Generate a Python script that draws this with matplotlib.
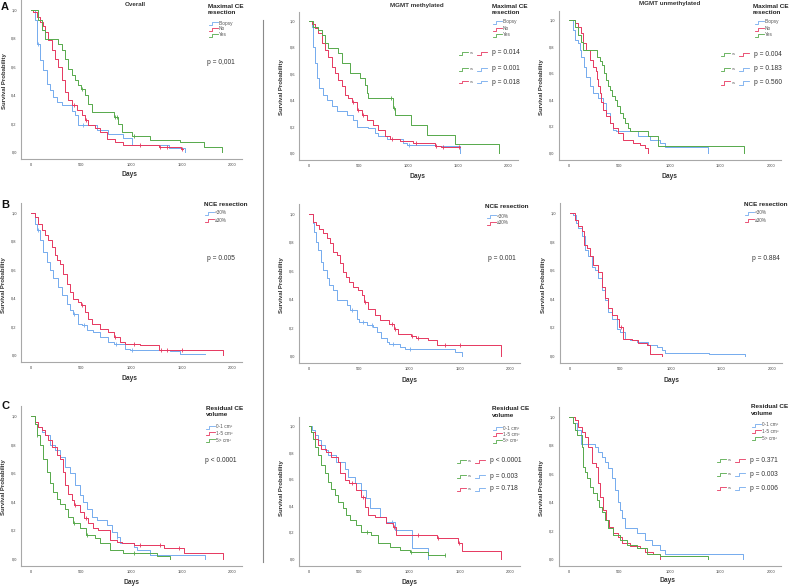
import matplotlib
matplotlib.use('Agg')
import matplotlib.pyplot as plt
from matplotlib.lines import Line2D

plt.rcParams['font.family'] = ['Liberation Sans', 'DejaVu Sans']

# ---------------- data ----------------
x_ticks = [0, 500, 1000, 1500, 2000]
x_tick_labels = ['0', '500', '1000', '1500', '2000']
y_ticks = [0.0, 0.2, 0.4, 0.6, 0.8, 1.0]
y_tick_labels = ['0,0', '0,2', '0,4', '0,6', '0,8', '1,0']

column_titles = ['Overall', 'MGMT methylated', 'MGMT unmethylated']
resection_labels = ['Biopsy', 'No', 'Yes']
nce_labels = ['<30%', '\u226530%']
volume_labels = ['0-1 cm\u00b3', '1-5 cm\u00b3', '5> cm\u00b3']

# A - Overall (Maximal CE resection)
A1_biopsy_t = [0, 40, 63, 90, 123, 156, 189, 223, 262, 306, 405, 438, 472, 654, 771, 920, 1003, 1369, 1528]
A1_biopsy_s = [1.0, 0.93, 0.76, 0.645, 0.575, 0.48, 0.434, 0.387, 0.352, 0.33, 0.29, 0.26, 0.19, 0.157, 0.13, 0.10, 0.05, 0.03, 0.0]
A1_biopsy_c = [70, 520]
A1_no_t = [0, 20, 56, 90, 116, 140, 173, 206, 239, 272, 306, 339, 372, 405, 455, 505, 538, 571, 638, 688, 754, 837, 920, 1270, 1490, 1512]
A1_no_s = [1.0, 0.985, 0.95, 0.915, 0.89, 0.845, 0.786, 0.716, 0.657, 0.6, 0.505, 0.42, 0.364, 0.329, 0.293, 0.258, 0.223, 0.188, 0.171, 0.14, 0.094, 0.07, 0.052, 0.035, 0.023, 0.023]
A1_no_c = [425, 545, 1086, 1286, 1352, 1502]
A1_yes_t = [0, 73, 106, 140, 272, 306, 339, 372, 405, 438, 472, 495, 538, 571, 605, 825, 870, 903, 1003, 1186, 1485, 1720, 1900]
A1_yes_s = [1.0, 0.927, 0.857, 0.798, 0.763, 0.716, 0.657, 0.587, 0.54, 0.505, 0.469, 0.446, 0.399, 0.34, 0.282, 0.246, 0.2, 0.14, 0.11, 0.087, 0.07, 0.035, 0.0]
A1_yes_c = [505, 838, 860, 1020]
A1_p = 'p = 0,001'

# A - MGMT methylated
A2_biopsy_t = [0, 27, 43, 60, 77, 104, 137, 177, 227, 278, 378, 445, 478, 595, 662, 696, 779, 946, 980, 1281, 1515]
A2_biopsy_s = [1.0, 0.957, 0.806, 0.68, 0.567, 0.49, 0.44, 0.403, 0.353, 0.315, 0.29, 0.252, 0.2, 0.189, 0.151, 0.131, 0.106, 0.076, 0.058, 0.05, 0.0]
A2_biopsy_c = [1007]
A2_no_t = [0, 27, 60, 94, 127, 161, 194, 227, 261, 294, 328, 361, 395, 430, 480, 530, 579, 645, 696, 763, 815, 913, 1047, 1264, 1331, 1515]
A2_no_s = [1.0, 0.98, 0.945, 0.907, 0.831, 0.78, 0.73, 0.655, 0.605, 0.554, 0.504, 0.441, 0.416, 0.39, 0.327, 0.29, 0.252, 0.214, 0.176, 0.131, 0.106, 0.088, 0.076, 0.055, 0.045, 0.045]
A2_no_c = [445, 495, 545, 830, 1080, 1275, 1345, 1505]
A2_yes_t = [0, 43, 94, 127, 161, 194, 294, 328, 411, 512, 562, 579, 595, 846, 863, 1030, 1181, 1465, 1910]
A2_yes_s = [1.0, 0.957, 0.93, 0.894, 0.83, 0.793, 0.755, 0.68, 0.605, 0.567, 0.516, 0.453, 0.416, 0.34, 0.29, 0.214, 0.139, 0.07, 0.0]
A2_yes_c = [829, 855]
A2_p = ['p = 0.014', 'p = 0.001', 'p = 0.018']

# A - MGMT unmethylated
A3_biopsy_t = [0, 40, 56, 89, 106, 123, 146, 172, 205, 238, 288, 338, 371, 404, 437, 470, 685, 801, 901, 950, 1381]
A3_biopsy_s = [1.0, 0.925, 0.85, 0.825, 0.775, 0.725, 0.65, 0.575, 0.5, 0.45, 0.413, 0.375, 0.3, 0.225, 0.175, 0.163, 0.125, 0.1, 0.075, 0.045, 0.0]
A3_biopsy_c = []
A3_no_t = [0, 56, 89, 123, 139, 172, 205, 238, 272, 280, 292, 305, 320, 338, 371, 404, 437, 487, 536, 636, 702, 752, 778]
A3_no_s = [1.0, 0.975, 0.95, 0.9, 0.825, 0.775, 0.7, 0.65, 0.613, 0.56, 0.5, 0.45, 0.38, 0.325, 0.275, 0.225, 0.188, 0.15, 0.1, 0.075, 0.058, 0.038, 0.0]
A3_no_c = []
A3_yes_t = [0, 56, 89, 123, 140, 280, 305, 330, 350, 371, 390, 404, 430, 454, 480, 503, 530, 553, 580, 603, 785, 884, 1728]
A3_yes_s = [1.0, 0.95, 0.888, 0.838, 0.775, 0.725, 0.69, 0.663, 0.6, 0.55, 0.5, 0.475, 0.43, 0.4, 0.35, 0.3, 0.26, 0.225, 0.19, 0.163, 0.125, 0.05, 0.0]
A3_yes_c = []
A3_p = ['p = 0.004', 'p = 0.183', 'p = 0.560']

# B - NCE resection
B1_lt_t = [0, 40, 63, 90, 123, 156, 189, 223, 272, 306, 355, 389, 420, 472, 510, 555, 621, 688, 771, 830, 937, 990, 1385, 1485, 1734]
B1_lt_s = [1.0, 0.925, 0.878, 0.808, 0.725, 0.655, 0.596, 0.545, 0.479, 0.42, 0.362, 0.315, 0.291, 0.221, 0.209, 0.174, 0.162, 0.127, 0.092, 0.08, 0.045, 0.038, 0.026, 0.01, 0.01]
B1_lt_c = [70, 430, 525, 850, 1003]
B1_ge_t = [0, 40, 73, 106, 140, 173, 206, 239, 262, 289, 322, 355, 389, 422, 472, 495, 538, 571, 605, 688, 771, 830, 887, 940, 1086, 1270, 1910]
B1_ge_s = [1.0, 0.972, 0.925, 0.878, 0.843, 0.808, 0.761, 0.702, 0.667, 0.643, 0.573, 0.502, 0.444, 0.397, 0.373, 0.35, 0.303, 0.256, 0.221, 0.185, 0.162, 0.127, 0.092, 0.08, 0.07, 0.038, 0.0]
B1_ge_c = [505, 840, 1020, 1290, 1352, 1502]
B1_p = 'p = 0.005'

B2_lt_t = [0, 36, 53, 70, 93, 116, 143, 176, 202, 242, 282, 375, 405, 474, 500, 574, 640, 673, 720, 773, 800, 905, 960, 1453, 1519]
B2_lt_s = [1.0, 0.934, 0.875, 0.805, 0.746, 0.664, 0.605, 0.546, 0.499, 0.464, 0.393, 0.358, 0.327, 0.264, 0.24, 0.216, 0.205, 0.169, 0.13, 0.099, 0.087, 0.064, 0.047, 0.028, 0.0]
B2_lt_c = [430, 540, 630, 840, 1005]
B2_ge_t = [0, 36, 70, 103, 143, 176, 209, 235, 282, 308, 335, 368, 401, 434, 491, 524, 545, 590, 657, 707, 800, 850, 889, 1010, 1060, 1187, 1270, 1907]
B2_ge_s = [1.0, 0.946, 0.922, 0.892, 0.864, 0.828, 0.793, 0.734, 0.711, 0.652, 0.593, 0.558, 0.522, 0.487, 0.468, 0.428, 0.381, 0.334, 0.287, 0.252, 0.228, 0.193, 0.158, 0.141, 0.129, 0.111, 0.075, 0.0]
B2_ge_c = [560, 823, 860, 1022, 1088, 1353, 1502]
B2_p = 'p = 0.001'

B3_lt_t = [0, 33, 60, 83, 116, 149, 182, 215, 248, 281, 314, 347, 380, 413, 463, 496, 545, 595, 661, 777, 860, 909, 942, 1372, 1736]
B3_lt_s = [1.0, 0.988, 0.93, 0.895, 0.836, 0.742, 0.696, 0.625, 0.602, 0.543, 0.461, 0.391, 0.309, 0.262, 0.192, 0.169, 0.122, 0.11, 0.098, 0.075, 0.063, 0.04, 0.023, 0.012, 0.0]
B3_lt_c = []
B3_ge_t = [0, 50, 83, 116, 139, 172, 198, 231, 281, 314, 347, 380, 413, 463, 490, 529, 612, 678, 760, 793, 909]
B3_ge_s = [1.0, 0.953, 0.906, 0.871, 0.778, 0.754, 0.696, 0.637, 0.59, 0.485, 0.403, 0.333, 0.286, 0.262, 0.204, 0.122, 0.11, 0.091, 0.075, 0.016, 0.0]
B3_ge_c = [500]
B3_p = 'p = 0.884'

# C - Residual CE volume
C1_v01_t = [0, 40, 73, 106, 140, 189, 239, 289, 339, 389, 438, 488, 522, 561, 605, 654, 754, 804, 854, 887, 1020, 1053, 1186, 1734]
C1_v01_s = [1.0, 0.958, 0.923, 0.888, 0.865, 0.795, 0.76, 0.714, 0.644, 0.598, 0.516, 0.447, 0.4, 0.353, 0.295, 0.272, 0.237, 0.191, 0.156, 0.109, 0.086, 0.063, 0.028, 0.0]
C1_v01_c = [860]
C1_v15_t = [0, 40, 73, 106, 140, 173, 206, 256, 289, 315, 339, 372, 405, 430, 488, 530, 571, 621, 671, 787, 854, 904, 1020, 1319, 1518, 1910]
C1_v15_s = [1.0, 0.958, 0.923, 0.9, 0.865, 0.83, 0.784, 0.726, 0.702, 0.609, 0.516, 0.458, 0.412, 0.377, 0.33, 0.284, 0.249, 0.214, 0.202, 0.133, 0.116, 0.109, 0.098, 0.074, 0.04, 0.0]
C1_v15_c = [440, 545, 1086, 1286, 1468]
C1_v5_t = [0, 40, 56, 90, 123, 156, 189, 223, 256, 289, 339, 372, 415, 488, 550, 638, 688, 787, 920, 1252, 1385]
C1_v5_s = [1.0, 0.947, 0.865, 0.795, 0.702, 0.609, 0.528, 0.47, 0.423, 0.388, 0.353, 0.295, 0.249, 0.214, 0.167, 0.144, 0.109, 0.063, 0.04, 0.023, 0.0]
C1_v5_c = [63, 430, 560, 1020]
C1_p = 'p < 0.0001'

C2_v01_t = [0, 33, 56, 90, 123, 156, 189, 272, 355, 389, 455, 522, 571, 605, 704, 770, 854, 1020, 1186]
C2_v01_s = [1.0, 0.968, 0.93, 0.893, 0.855, 0.818, 0.78, 0.73, 0.68, 0.618, 0.568, 0.518, 0.455, 0.38, 0.318, 0.28, 0.218, 0.08, 0.0]
C2_v01_c = [830]
C2_v15_t = [0, 23, 56, 90, 123, 173, 223, 289, 306, 355, 400, 472, 515, 555, 588, 654, 770, 837, 870, 1269, 1485, 1518, 1907]
C2_v15_s = [1.0, 0.955, 0.905, 0.855, 0.83, 0.805, 0.768, 0.73, 0.643, 0.593, 0.568, 0.518, 0.468, 0.393, 0.33, 0.318, 0.268, 0.243, 0.18, 0.155, 0.118, 0.063, 0.0]
C2_v15_c = [430, 540, 845, 1086, 1280, 1490]
C2_v5_t = [0, 23, 40, 56, 90, 123, 156, 189, 223, 256, 289, 339, 372, 405, 472, 522, 621, 688, 804, 904, 1003, 1186, 1352]
C2_v5_s = [1.0, 0.955, 0.905, 0.843, 0.78, 0.705, 0.643, 0.58, 0.53, 0.48, 0.43, 0.38, 0.33, 0.293, 0.255, 0.205, 0.18, 0.118, 0.093, 0.068, 0.05, 0.03, 0.03]
C2_v5_c = [575, 1010, 1352]
C2_p = ['p < 0.0001', 'p = 0.003', 'p = 0.718']

C3_v01_t = [0, 43, 80, 115, 257, 290, 323, 356, 389, 422, 455, 488, 505, 521, 554, 670, 752, 818, 901, 950, 1723]
C3_v01_s = [1.0, 0.955, 0.91, 0.81, 0.79, 0.756, 0.72, 0.685, 0.638, 0.568, 0.486, 0.404, 0.345, 0.286, 0.216, 0.18, 0.134, 0.1, 0.063, 0.035, 0.0]
C3_v01_c = []
C3_v15_t = [0, 59, 92, 125, 158, 191, 224, 267, 290, 307, 333, 366, 399, 439, 488, 521, 604, 703, 752, 835, 901]
C3_v15_s = [1.0, 0.979, 0.93, 0.897, 0.861, 0.79, 0.673, 0.65, 0.533, 0.44, 0.345, 0.275, 0.228, 0.18, 0.157, 0.11, 0.094, 0.08, 0.052, 0.035, 0.0]
C3_v15_c = []
C3_v5_t = [0, 43, 59, 76, 125, 142, 158, 175, 208, 241, 274, 300, 323, 356, 389, 439, 505, 571, 670, 769, 901, 1380]
C3_v5_s = [1.0, 0.955, 0.908, 0.873, 0.79, 0.65, 0.615, 0.568, 0.51, 0.462, 0.415, 0.369, 0.333, 0.275, 0.216, 0.169, 0.134, 0.1, 0.075, 0.035, 0.021, 0.0]
C3_v5_c = []
C3_p = ['p = 0.371', 'p = 0.003', 'p = 0.006']

# ---------------- styling ----------------
W, H = 789, 587
BLUE = '#74abee'
RED = '#e6375f'
GREEN = '#55a94a'
SPINE = '#a8a8a8'
TXT = '#333333'
LEG = '#555555'

fig = plt.figure(figsize=(W / 100, H / 100), dpi=100)


def fx(x):
    return x / W


def fy(y):
    return 1 - y / H


def text(x, y, s, size=4.5, weight='normal', ha='left', va='center', color=TXT, rot=0):
    fig.text(fx(x), fy(y), s, fontsize=size, fontweight=weight, ha=ha, va=va,
             color=color, rotation=rot)


def icon(x, y, color, w=9, h=3):
    xs = [x, x + w * 0.35, x + w * 0.35, x + w]
    ys = [y + h / 2, y + h / 2, y - h / 2, y - h / 2]
    fig.add_artist(Line2D([fx(v) for v in xs], [fy(v) for v in ys],
                          transform=fig.transFigure, color=color, lw=0.6))


def make_ax(x0, x2000, y1, y0):
    ppd = (x2000 - x0) / 2000.0
    left = x0 - 100 * ppd
    right = x0 + 2100 * ppd
    ppu = y0 - y1
    top = y1 - 0.07 * ppu
    bottom = y0 + 0.05 * ppu
    ax = fig.add_axes([fx(left), fy(bottom), (right - left) / W, (bottom - top) / H])
    ax.set_xlim(-100, 2100)
    ax.set_ylim(-0.05, 1.07)
    for sp in ['top', 'right']:
        ax.spines[sp].set_visible(False)
    for sp in ['left', 'bottom']:
        ax.spines[sp].set_color(SPINE)
        ax.spines[sp].set_linewidth(0.8)
    ax.set_xticks(x_ticks)
    ax.set_xticklabels(x_tick_labels)
    ax.set_yticks(y_ticks)
    ax.set_yticklabels(y_tick_labels)
    ax.tick_params(length=0, labelsize=2.9, colors='#444444', pad=3)
    ax.patch.set_alpha(0)
    return ax


def km(ax, t, s, c, color):
    ax.step(t, s, where='post', color=color, lw=0.7)
    for ct in c:
        val = s[0]
        for ti, si in zip(t, s):
            if ti <= ct:
                val = si
        ax.plot([ct], [val], marker='|', ms=2.6, mew=0.6, color=color)


axes_px = {
    'A1': (31, 232, 10, 152), 'A2': (309, 508, 21, 153), 'A3': (569, 771, 20, 153),
    'B1': (31, 232, 213, 355), 'B2': (309, 510, 214, 356), 'B3': (570, 772, 213, 356),
    'C1': (31, 232, 416, 559), 'C2': (309, 510, 426, 559), 'C3': (569, 771, 417, 559),
}

ax = make_ax(*axes_px['A1'])
km(ax, A1_biopsy_t, A1_biopsy_s, A1_biopsy_c, BLUE)
km(ax, A1_no_t, A1_no_s, A1_no_c, RED)
km(ax, A1_yes_t, A1_yes_s, A1_yes_c, GREEN)
ax = make_ax(*axes_px['A2'])
km(ax, A2_biopsy_t, A2_biopsy_s, A2_biopsy_c, BLUE)
km(ax, A2_no_t, A2_no_s, A2_no_c, RED)
km(ax, A2_yes_t, A2_yes_s, A2_yes_c, GREEN)
ax = make_ax(*axes_px['A3'])
km(ax, A3_biopsy_t, A3_biopsy_s, A3_biopsy_c, BLUE)
km(ax, A3_no_t, A3_no_s, A3_no_c, RED)
km(ax, A3_yes_t, A3_yes_s, A3_yes_c, GREEN)

ax = make_ax(*axes_px['B1'])
km(ax, B1_lt_t, B1_lt_s, B1_lt_c, BLUE)
km(ax, B1_ge_t, B1_ge_s, B1_ge_c, RED)
ax = make_ax(*axes_px['B2'])
km(ax, B2_lt_t, B2_lt_s, B2_lt_c, BLUE)
km(ax, B2_ge_t, B2_ge_s, B2_ge_c, RED)
ax = make_ax(*axes_px['B3'])
km(ax, B3_lt_t, B3_lt_s, B3_lt_c, BLUE)
km(ax, B3_ge_t, B3_ge_s, B3_ge_c, RED)

ax = make_ax(*axes_px['C1'])
km(ax, C1_v01_t, C1_v01_s, C1_v01_c, BLUE)
km(ax, C1_v15_t, C1_v15_s, C1_v15_c, RED)
km(ax, C1_v5_t, C1_v5_s, C1_v5_c, GREEN)
ax = make_ax(*axes_px['C2'])
km(ax, C2_v01_t, C2_v01_s, C2_v01_c, BLUE)
km(ax, C2_v15_t, C2_v15_s, C2_v15_c, RED)
km(ax, C2_v5_t, C2_v5_s, C2_v5_c, GREEN)
ax = make_ax(*axes_px['C3'])
km(ax, C3_v01_t, C3_v01_s, C3_v01_c, BLUE)
km(ax, C3_v15_t, C3_v15_s, C3_v15_c, RED)
km(ax, C3_v5_t, C3_v5_s, C3_v5_c, GREEN)

# separator
fig.add_artist(Line2D([fx(263), fx(263)], [fy(20), fy(562)], transform=fig.transFigure,
                      color='#8a8a8a', lw=0.8))

# panel letters
text(5, 7, 'A', size=8, weight='bold', ha='center', color='#111111')
text(5, 205, 'B', size=8, weight='bold', ha='center', color='#111111')
text(5, 406, 'C', size=8, weight='bold', ha='center', color='#111111')

# column titles
text(135, 4, column_titles[0], size=4.5, weight='bold', ha='center')
text(417, 5, column_titles[1], size=4.5, weight='bold', ha='center')
text(670, 4, column_titles[2], size=4.5, weight='bold', ha='center')

# axis labels
for (x, y) in [(130, 175), (417, 177), (670, 177), (130, 379), (410, 380), (672, 380),
               (132, 582), (410, 582), (668, 580)]:
    text(x, y, 'Days', size=4.8, weight='bold', ha='center')
for (x, y) in [(5, 81), (281, 87), (542, 87), (4, 285), (282, 285), (543, 285),
               (4, 487), (282, 488), (542, 488)]:
    text(x, y, 'Survival Probability', size=4.3, weight='bold', ha='center', rot=90)


# legends
def legend(x, y_title, titles, ys, labels, colors, ix):
    for i, tl in enumerate(titles):
        text(x, y_title + 6.5 * i, tl, size=4.6, weight='bold', color='#222222')
    for yy, lab, col in zip(ys, labels, colors):
        icon(ix, yy, col)
        text(ix + 10, yy, lab, size=3.4, color=LEG)


res_cols = [BLUE, RED, GREEN]
legend(208, 6, ['Maximal CE', 'resection'], [23, 29, 35], resection_labels, res_cols, 209)
legend(492, 6, ['Maximal CE', 'resection'], [22, 29, 35], resection_labels, res_cols, 493)
legend(753, 6, ['Maximal CE', 'resection'], [22, 29, 35], resection_labels, res_cols, 755)
legend(204, 204, ['NCE resection'], [213, 220], nce_labels, [BLUE, RED], 205)
legend(485, 207, ['NCE resection'], [216, 223], nce_labels, [BLUE, RED], 487)
legend(744, 204, ['NCE resection'], [213, 220], nce_labels, [BLUE, RED], 745)
legend(206, 408, ['Residual CE', 'volume'], [427, 433.5, 440], volume_labels, res_cols, 206)
legend(492, 409, ['Residual CE', 'volume'], [428, 434.5, 441], volume_labels, res_cols, 493)
legend(751, 407, ['Residual CE', 'volume'], [425, 431.5, 438], volume_labels, res_cols, 752)

# single p values
text(207, 62, A1_p, size=4.8)
text(207, 258, B1_p, size=4.8)
text(205, 460, C1_p, size=4.8)
text(488, 258, B2_p, size=4.8)
text(752, 258, B3_p, size=4.8)

# pairwise p values
pairs = [(GREEN, RED), (GREEN, BLUE), (RED, BLUE)]


def pair_rows(x, ys, plist):
    for yy, (c1, c2), p in zip(ys, pairs, plist):
        icon(x, yy, c1)
        text(x + 10.5, yy, 'vs', size=2.8, color=LEG)
        icon(x + 18, yy, c2, w=10)
        text(x + 33, yy, p, size=4.8)


pair_rows(459, [53, 69, 82], A2_p)
pair_rows(721, [54, 69, 83], A3_p)
pair_rows(457, [461, 476, 489], C2_p)
pair_rows(717, [460, 474, 488], C3_p)

fig.savefig('out.png', dpi=100)
